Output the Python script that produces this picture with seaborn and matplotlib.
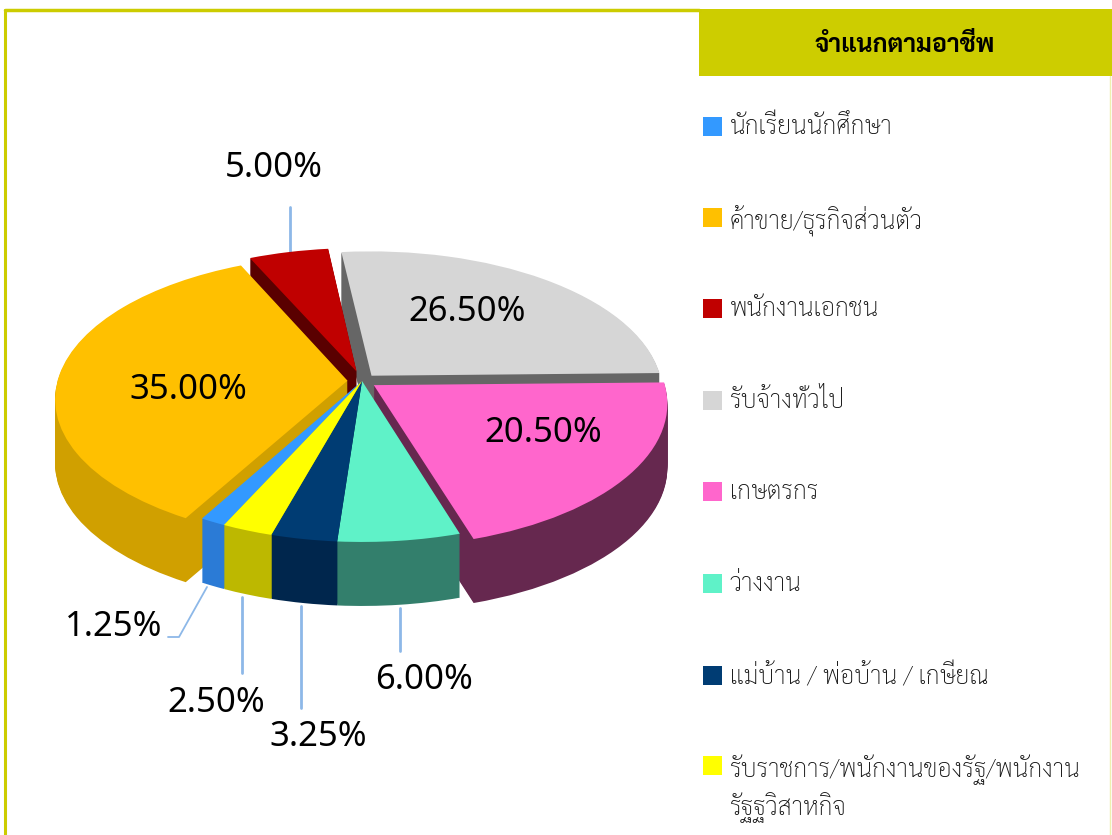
import matplotlib
matplotlib.use("Agg")
import matplotlib.pyplot as plt
from matplotlib.transforms import Transform
from matplotlib.patches import Rectangle
import numpy as np
import seaborn as sns

occupations = ["นักเรียนนักศึกษา", "ค้าขาย/ธุรกิจส่วนตัว", "พนักงานเอกชน", "รับจ้างทั่วไป",
               "เกษตรกร", "ว่างงาน", "แม่บ้าน / พ่อบ้าน / เกษียณ",
               "รับราชการ/พนักงานของรัฐ/พนักงาน\nรัฐฐวิสาหกิจ"]
shares = [1.25, 35.0, 5.0, 26.5, 20.5, 6.0, 3.25, 2.5]
top_colors = ["#3399FF", "#FFC000", "#C00000", "#D6D6D6", "#FF66CC", "#5FF2C8", "#003C73", "#FFFF00"]
side_colors = ["#2B7BD6", "#D0A000", "#5A0000", "#666666", "#66284F", "#337F6C", "#00264D", "#BDB800"]
explode = [0.0, 0.05, 0.07, 0.05, 0.05, 0.0, 0.0, 0.0]
title = "จำแนกตามอาชีพ"

sns.set_theme(style="white")
plt.rcParams["font.family"] = ["Sarabun", "DejaVu Sans"]

CX, CY, RX, RY, TILT = 362, 381, 290, 141, 0.124
DEPTH = 64


# tilts the flat pie: back of the circle shrinks, front grows
class Tilt(Transform):
    input_dims = 2
    output_dims = 2
    is_separable = False
    has_inverse = False

    def __init__(self, drop):
        super().__init__()
        self.drop = drop

    def transform_non_affine(self, values):
        xy = np.asarray(values)
        s = 1 / (1 + TILT * xy[:, 1])
        return np.column_stack([CX + xy[:, 0] * s * RX, CY - xy[:, 1] * s * RY + self.drop])


fig = plt.figure(figsize=(11.12, 8.35), dpi=100)
ax = fig.add_axes([0, 0, 1, 1])

for drop in range(DEPTH, -1, -1):
    colors = side_colors if drop > 0 else top_colors
    wedges, _ = ax.pie(shares, explode=explode, colors=sns.color_palette(colors),
                       startangle=-115, counterclock=False, radius=1)
    for w in wedges:
        w.set_linewidth(0)
        w.set_transform(Tilt(drop) + ax.transData)

ax.set_aspect("auto")
ax.set_xlim(0, 1112)
ax.set_ylim(835, 0)
ax.set_axis_off()

# frame and header
ax.plot([5, 5], [10, 835], color="#CCCC00", lw=2.2)
ax.plot([5, 699], [10, 10], color="#CCCC00", lw=2.5)
ax.plot([1110, 1110], [76, 835], color="#EFEFB0", lw=1)
ax.add_patch(Rectangle((699, 9), 413, 67, color="#CDCD00", lw=0))
ax.text(905, 46, title, ha="center", va="center", fontsize=18, fontweight="bold", color="black")

# legend
legend_y = [126, 217, 308, 400, 491, 583, 675, 765]
for name, c, y in zip(occupations, top_colors, legend_y):
    ax.add_patch(Rectangle((703, y - 9.5), 19, 19, color=c, lw=0))
    ax.text(730, y - 11, name, ha="left", va="top", fontsize=17.9, fontweight="light",
            color="#111111", linespacing=1.33)

# percent labels
label_pos = [(114, 627), (188, 390), (274, 168), (467, 312), (543, 433), (424, 680), (318, 737), (216, 703)]
for v, (x, y) in zip(shares, label_pos):
    ax.text(x, y, f"{v:.2f}%", ha="center", va="center", fontsize=25, color="black",
            family=["Noto Sans", "DejaVu Sans"])

# leader lines
leader = "#8DB8E8"
ax.plot([207, 179, 168], [587, 637, 637], color=leader, lw=1.3)
ax.plot([242, 242], [597, 673], color=leader, lw=2)
ax.plot([301, 301], [606, 708], color=leader, lw=2)
ax.plot([400, 400], [608, 651], color=leader, lw=2)
ax.plot([290, 290], [207, 252], color=leader, lw=2, zorder=0.5)

fig.savefig("out.png", dpi=100)
